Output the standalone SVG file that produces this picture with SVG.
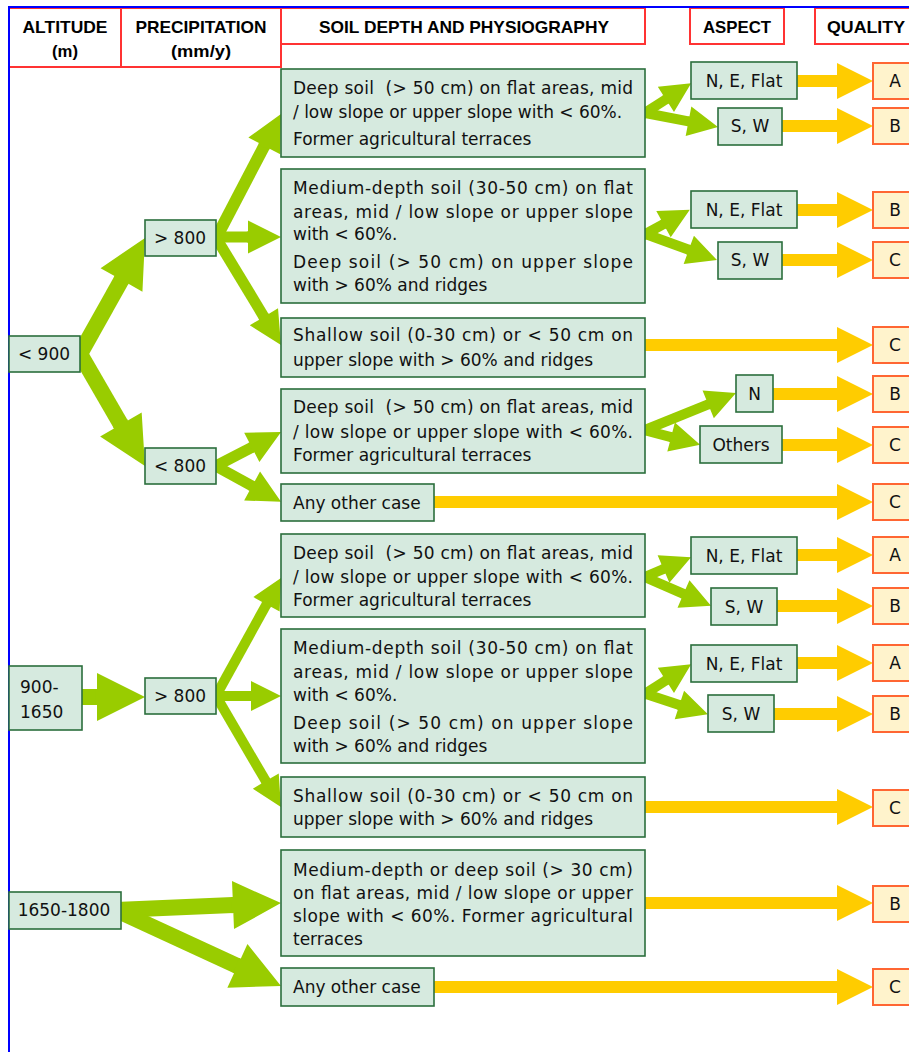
<svg xmlns="http://www.w3.org/2000/svg" width="909" height="1052" viewBox="0 0 909 1052">
<style>
.hdr{fill:#fff;stroke:#ff3333;stroke-width:2}
.ht{font-family:"Liberation Sans",Arial,sans-serif;font-weight:bold;font-size:17px;fill:#000;text-anchor:middle}
.box{fill:#d6eadf;stroke:#2b6e3c;stroke-width:1.6}
.q{fill:#fff3cc;stroke:#ff6633;stroke-width:2}
.t{font-family:"DejaVu Sans",Verdana,sans-serif;font-size:17px;fill:#111}
.c{text-anchor:middle}
.g{stroke:#99cc00;fill:none;marker-end:url(#ahG)}
.y{stroke:#ffcc00;stroke-width:12;fill:none;marker-end:url(#ahY)}
</style>
<defs>
<marker id="ahG" markerUnits="strokeWidth" markerWidth="3" markerHeight="3" refX="0" refY="0" orient="auto" overflow="visible"><path d="M-0.1,-0.5 L0,-0.5 L0,-1.5 L3,0 L0,1.5 L0,0.5 L-0.1,0.5 z" fill="#99cc00"/></marker>
<marker id="ahY" markerUnits="strokeWidth" markerWidth="3" markerHeight="3" refX="0" refY="0" orient="auto" overflow="visible"><path d="M-0.1,-0.5 L0,-0.5 L0,-1.5 L3,0 L0,1.5 L0,0.5 L-0.1,0.5 z" fill="#ffcc00"/></marker>
</defs>
<rect x="0" y="0" width="909" height="1052" fill="#fff"/>

<g id="header">
<rect class="hdr" x="9" y="8" width="112" height="59"/>
<rect class="hdr" x="121" y="8" width="160" height="59"/>
<rect class="hdr" x="281" y="8" width="364" height="36"/>
<rect class="hdr" x="690" y="8" width="94" height="36"/>
<rect class="hdr" x="815" y="8" width="110" height="36"/>
<text class="ht" x="65" y="33" textLength="85" lengthAdjust="spacingAndGlyphs">ALTITUDE</text>
<text class="ht" x="65" y="57" textLength="26" lengthAdjust="spacingAndGlyphs">(m)</text>
<text class="ht" x="201" y="33" textLength="131" lengthAdjust="spacingAndGlyphs">PRECIPITATION</text>
<text class="ht" x="201" y="57" textLength="60" lengthAdjust="spacingAndGlyphs">(mm/y)</text>
<text class="ht" x="464" y="33" textLength="290" lengthAdjust="spacingAndGlyphs">SOIL DEPTH AND PHYSIOGRAPHY</text>
<text class="ht" x="737" y="33" textLength="68" lengthAdjust="spacingAndGlyphs">ASPECT</text>
<text class="ht" x="866" y="33" textLength="78" lengthAdjust="spacingAndGlyphs">QUALITY</text>
</g>
<g id="frame" stroke="#0000ff" stroke-width="2">
<line x1="8" y1="7" x2="909" y2="7"/>
<line x1="9" y1="6" x2="9" y2="1052"/>
</g>

<g id="connectors">
<line class="g" stroke-width="16" x1="76" y1="361" x2="121.5" y2="279.9"/>
<line class="g" stroke-width="16" x1="76" y1="347" x2="120.9" y2="424.5"/>
<line class="g" stroke-width="12" x1="212" y1="246" x2="264.3" y2="145.9"/>
<line class="g" stroke-width="11" x1="212" y1="237" x2="248" y2="237"/>
<line class="g" stroke-width="11" x1="212" y1="231" x2="263.9" y2="316.8"/>
<line class="g" stroke-width="10" x1="640" y1="116" x2="665.9" y2="99.4"/>
<line class="g" stroke-width="10" x1="640" y1="112" x2="688.5" y2="121.3"/>
<line class="g" stroke-width="10" x1="640" y1="237" x2="663.5" y2="224.1"/>
<line class="g" stroke-width="10" x1="640" y1="232" x2="688.8" y2="249.8"/>
<line class="g" stroke-width="11" x1="212" y1="468" x2="251.8" y2="447.3"/>
<line class="g" stroke-width="11" x1="212" y1="464" x2="252.1" y2="486"/>
<line class="g" stroke-width="10" x1="640" y1="432" x2="708.2" y2="404.3"/>
<line class="g" stroke-width="10" x1="640" y1="429" x2="671.1" y2="437.1"/>
<line class="g" stroke-width="16" x1="78" y1="697" x2="97" y2="697"/>
<line class="g" stroke-width="10" x1="212" y1="703" x2="266.5" y2="604.3"/>
<line class="g" stroke-width="10" x1="212" y1="696" x2="251" y2="696"/>
<line class="g" stroke-width="10" x1="212" y1="689" x2="265.8" y2="781.1"/>
<line class="g" stroke-width="10" x1="640" y1="579" x2="663.5" y2="569"/>
<line class="g" stroke-width="10" x1="640" y1="575" x2="683.5" y2="593.9"/>
<line class="g" stroke-width="10" x1="640" y1="697" x2="665.9" y2="680.4"/>
<line class="g" stroke-width="10" x1="640" y1="692" x2="679.4" y2="704.9"/>
<line class="g" stroke-width="16" x1="116" y1="910" x2="233" y2="905.1"/>
<line class="g" stroke-width="16" x1="116" y1="910" x2="237.4" y2="965.9"/>

<line class="y" x1="792" y1="81" x2="837" y2="81"/>
<line class="y" x1="777" y1="126" x2="837" y2="126"/>
<line class="y" x1="792" y1="210" x2="837" y2="210"/>
<line class="y" x1="777" y1="260" x2="837" y2="260"/>
<line class="y" x1="640" y1="345" x2="837" y2="345"/>
<line class="y" x1="768" y1="394" x2="837" y2="394"/>
<line class="y" x1="777" y1="445" x2="837" y2="445"/>
<line class="y" x1="429" y1="502" x2="837" y2="502"/>
<line class="y" x1="792" y1="555" x2="837" y2="555"/>
<line class="y" x1="772" y1="606" x2="837" y2="606"/>
<line class="y" x1="792" y1="663" x2="837" y2="663"/>
<line class="y" x1="769" y1="714" x2="837" y2="714"/>
<line class="y" x1="640" y1="807" x2="837" y2="807"/>
<line class="y" x1="640" y1="903" x2="837" y2="903"/>
<line class="y" x1="429" y1="987" x2="837" y2="987"/>
</g>

<g id="alt-lt900"><rect class="box" x="9" y="336" width="71" height="36"/><text class="t c" x="44" y="360">&lt; 900</text></g>
<g id="alt-900-1650"><rect class="box" x="9" y="666" width="73" height="64"/><text class="t" x="20" y="693">900-</text><text class="t" x="20" y="718">1650</text></g>
<g id="alt-1650-1800"><rect class="box" x="9" y="892" width="112" height="37"/><text class="t c" x="64" y="916">1650-1800</text></g>

<g id="prec-gt800-a"><rect class="box" x="145" y="220" width="71" height="36"/><text class="t c" x="180" y="244">&gt; 800</text></g>
<g id="prec-lt800"><rect class="box" x="145" y="448" width="71" height="36"/><text class="t c" x="180" y="472">&lt; 800</text></g>
<g id="prec-gt800-b"><rect class="box" x="145" y="678" width="71" height="36"/><text class="t c" x="180" y="702">&gt; 800</text></g>

<g id="soil1"><rect class="box" x="281" y="69" width="364" height="88"/>
<text class="t" x="293" y="94" textLength="340" lengthAdjust="spacing">Deep soil&#160; (&gt; 50 cm) on flat areas, mid</text>
<text class="t" x="293" y="118">/ low slope or upper slope with &lt; 60%.</text>
<text class="t" x="293" y="145">Former agricultural terraces</text></g>
<g id="soil2"><rect class="box" x="281" y="169" width="364" height="134"/>
<text class="t" x="293" y="194" textLength="340" lengthAdjust="spacing">Medium-depth soil (30-50 cm) on flat</text>
<text class="t" x="293" y="218" textLength="340" lengthAdjust="spacing">areas, mid / low slope or upper slope</text>
<text class="t" x="293" y="240">with &lt; 60%.</text>
<text class="t" x="293" y="268" textLength="340" lengthAdjust="spacing">Deep soil (&gt; 50 cm) on upper slope</text>
<text class="t" x="293" y="291">with &gt; 60% and ridges</text></g>
<g id="soil3"><rect class="box" x="281" y="318" width="364" height="59"/>
<text class="t" x="293" y="341" textLength="340" lengthAdjust="spacing">Shallow soil (0-30 cm) or &lt; 50 cm on</text>
<text class="t" x="293" y="366">upper slope with &gt; 60% and ridges</text></g>
<g id="soil4"><rect class="box" x="281" y="389" width="364" height="84"/>
<text class="t" x="293" y="413" textLength="340" lengthAdjust="spacing">Deep soil&#160; (&gt; 50 cm) on flat areas, mid</text>
<text class="t" x="293" y="438" textLength="340" lengthAdjust="spacing">/ low slope or upper slope with &lt; 60%.</text>
<text class="t" x="293" y="461">Former agricultural terraces</text></g>
<g id="soil5"><rect class="box" x="281" y="484" width="153" height="37"/><text class="t" x="293" y="509">Any other case</text></g>
<g id="soil6"><rect class="box" x="281" y="534" width="364" height="83"/>
<text class="t" x="293" y="559" textLength="340" lengthAdjust="spacing">Deep soil&#160; (&gt; 50 cm) on flat areas, mid</text>
<text class="t" x="293" y="583" textLength="340" lengthAdjust="spacing">/ low slope or upper slope with &lt; 60%.</text>
<text class="t" x="293" y="606">Former agricultural terraces</text></g>
<g id="soil7"><rect class="box" x="281" y="629" width="364" height="134"/>
<text class="t" x="293" y="654" textLength="340" lengthAdjust="spacing">Medium-depth soil (30-50 cm) on flat</text>
<text class="t" x="293" y="678" textLength="340" lengthAdjust="spacing">areas, mid / low slope or upper slope</text>
<text class="t" x="293" y="701">with &lt; 60%.</text>
<text class="t" x="293" y="729" textLength="340" lengthAdjust="spacing">Deep soil (&gt; 50 cm) on upper slope</text>
<text class="t" x="293" y="752">with &gt; 60% and ridges</text></g>
<g id="soil8"><rect class="box" x="281" y="777" width="364" height="60"/>
<text class="t" x="293" y="802" textLength="340" lengthAdjust="spacing">Shallow soil (0-30 cm) or &lt; 50 cm on</text>
<text class="t" x="293" y="825">upper slope with &gt; 60% and ridges</text></g>
<g id="soil9"><rect class="box" x="281" y="850" width="364" height="106"/>
<text class="t" x="293" y="876" textLength="340" lengthAdjust="spacing">Medium-depth or deep soil (&gt; 30 cm)</text>
<text class="t" x="293" y="899" textLength="340" lengthAdjust="spacing">on flat areas, mid / low slope or upper</text>
<text class="t" x="293" y="922" textLength="340" lengthAdjust="spacing">slope with &lt; 60%. Former agricultural</text>
<text class="t" x="293" y="945">terraces</text></g>
<g id="soil10"><rect class="box" x="281" y="968" width="153" height="38"/><text class="t" x="293" y="993">Any other case</text></g>

<g id="asp1"><rect class="box" x="691" y="62" width="106" height="37"/><text class="t c" x="744" y="87">N, E, Flat</text></g>
<g id="asp2"><rect class="box" x="718" y="108" width="64" height="37"/><text class="t c" x="750" y="132">S, W</text></g>
<g id="asp3"><rect class="box" x="691" y="191" width="106" height="37"/><text class="t c" x="744" y="216">N, E, Flat</text></g>
<g id="asp4"><rect class="box" x="718" y="242" width="64" height="37"/><text class="t c" x="750" y="266">S, W</text></g>
<g id="asp5"><rect class="box" x="736" y="375" width="37" height="37"/><text class="t c" x="754.5" y="400">N</text></g>
<g id="asp6"><rect class="box" x="700" y="426" width="82" height="37"/><text class="t c" x="741" y="451">Others</text></g>
<g id="asp7"><rect class="box" x="691" y="537" width="106" height="37"/><text class="t c" x="744" y="562">N, E, Flat</text></g>
<g id="asp8"><rect class="box" x="711" y="588" width="66" height="37"/><text class="t c" x="744" y="613">S, W</text></g>
<g id="asp9"><rect class="box" x="691" y="645" width="106" height="37"/><text class="t c" x="744" y="670">N, E, Flat</text></g>
<g id="asp10"><rect class="box" x="708" y="695" width="66" height="37"/><text class="t c" x="741" y="720">S, W</text></g>

<g id="q1"><rect class="q" x="873" y="63" width="44" height="36"/><text class="t c" x="895" y="87">A</text></g>
<g id="q2"><rect class="q" x="873" y="108" width="44" height="36"/><text class="t c" x="895" y="132">B</text></g>
<g id="q3"><rect class="q" x="873" y="192" width="44" height="36"/><text class="t c" x="895" y="216">B</text></g>
<g id="q4"><rect class="q" x="873" y="242" width="44" height="36"/><text class="t c" x="895" y="266">C</text></g>
<g id="q5"><rect class="q" x="873" y="327" width="44" height="36"/><text class="t c" x="895" y="351">C</text></g>
<g id="q6"><rect class="q" x="873" y="376" width="44" height="36"/><text class="t c" x="895" y="400">B</text></g>
<g id="q7"><rect class="q" x="873" y="427" width="44" height="36"/><text class="t c" x="895" y="451">C</text></g>
<g id="q8"><rect class="q" x="873" y="484" width="44" height="36"/><text class="t c" x="895" y="508">C</text></g>
<g id="q9"><rect class="q" x="873" y="537" width="44" height="36"/><text class="t c" x="895" y="561">A</text></g>
<g id="q10"><rect class="q" x="873" y="588" width="44" height="36"/><text class="t c" x="895" y="612">B</text></g>
<g id="q11"><rect class="q" x="873" y="645" width="44" height="36"/><text class="t c" x="895" y="669">A</text></g>
<g id="q12"><rect class="q" x="873" y="696" width="44" height="36"/><text class="t c" x="895" y="720">B</text></g>
<g id="q13"><rect class="q" x="873" y="790" width="44" height="36"/><text class="t c" x="895" y="814">C</text></g>
<g id="q14"><rect class="q" x="873" y="886" width="44" height="36"/><text class="t c" x="895" y="910">B</text></g>
<g id="q15"><rect class="q" x="873" y="969" width="44" height="36"/><text class="t c" x="895" y="993">C</text></g>
</svg>
